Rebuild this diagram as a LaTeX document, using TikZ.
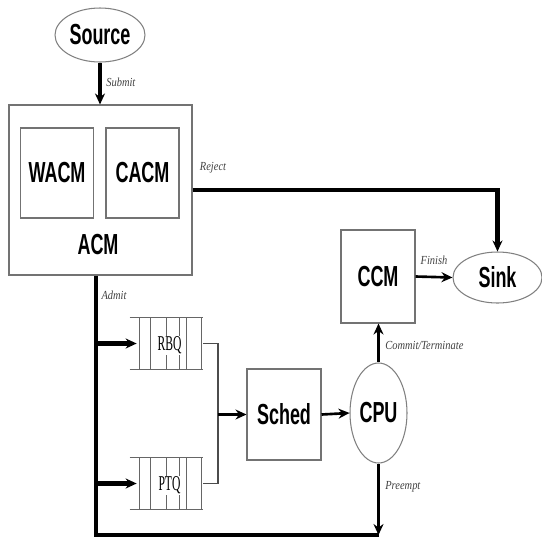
\documentclass[tikz,border=0pt]{standalone}
\usepackage{fontspec}
\setmainfont{Liberation Serif}
\newfontfamily\boxfont[FakeStretch=0.62]{Liberation Sans}
\newfontfamily\tagfont[FakeStretch=0.85]{Liberation Serif}
\newfontfamily\qfont[FakeStretch=0.55]{Liberation Serif}
\usepackage{tikz}
\usetikzlibrary{arrows.meta,shapes.geometric,calc}

\begin{document}
\begin{tikzpicture}[
    x=0.2mm, y=-0.2mm,
    box/.style={draw=black!55, fill=white, line width=0.6pt, inner sep=0pt,
                minimum width=14.6mm, minimum height=18mm,
                font=\boxfont\bfseries\fontsize{16.5}{18}\selectfont},
    boxtext/.style={inner sep=0pt, font=\boxfont\bfseries\fontsize{16.5}{18}\selectfont},
    oval/.style={ellipse, draw=black!50, fill=white, line width=0.6pt, inner sep=0pt,
                 font=\boxfont\bfseries\fontsize{16.5}{18}\selectfont},
    queue/.style={draw=none, inner sep=0pt, minimum width=14.6mm, minimum height=10.2mm},
    qline/.style={draw=black!60, line width=0.6pt},
    qlabel/.style={fill=white, inner sep=0.6pt, font=\qfont\fontsize{12}{13}\selectfont, text=black},
    tag/.style={inner sep=0pt, font=\tagfont\itshape\fontsize{7}{8}\selectfont, text=black!75},
    heavy/.style={draw=black, line width=2.4pt},
    heavyarrow/.style={-{Stealth[length=2.2mm,width=2mm]}, draw=black, line width=2.4pt},
    flowarrow/.style={-{Stealth[length=2.2mm,width=2mm]}, draw=black, line width=1.5pt},
    link/.style={draw=black!70, line width=0.8pt}
]
\useasboundingbox (0,0) rectangle (542,540);

\node[oval, minimum width=18mm, minimum height=10.8mm] (source) at (100,35) {Source};
\node[box, minimum width=36.6mm, minimum height=34mm] (acm) at (100.5,190) {};
\node[box] (wacm) at (57,173) {WACM};
\node[box] (cacm) at (142.5,173) {CACM};
\node[boxtext] (acmname) at (98,245) {ACM};
\node[box, minimum width=14.8mm, minimum height=18.6mm] (ccm) at (378,276.5) {CCM};
\node[oval, minimum width=17.8mm, minimum height=10.2mm] (sink) at (497.5,277.5) {Sink};
\node[box, minimum width=14.8mm, minimum height=18.2mm] (sched) at (284,414.5) {Sched};
\node[oval, minimum width=11.4mm, minimum height=20mm] (cpu) at (378.5,413) {CPU};

\node[queue] (rbq) at (166.5,343.5) {};
\node[queue] (ptq) at (166.5,483.5) {};
\foreach \q in {rbq,ptq} {
    \draw[qline] (\q.north west) -- (\q.north east);
    \draw[qline] (\q.south west) -- (\q.south east);
    \foreach \dx in {10,21,37,50,57,72}
        \draw[qline] ($(\q.north west)+(\dx,0)$) -- ($(\q.south west)+(\dx,0)$);
}
\node[qlabel] (rbqname) at ($(rbq.center)+(3,2)$) {RBQ};
\node[qlabel] (ptqname) at ($(ptq.center)+(3,2)$) {PTQ};

\coordinate (corner) at (96,535);
\coordinate (merge) at (218,414.5);

\draw[heavyarrow] (source.south) -- (source.south |- acm.north);
\draw[heavyarrow] (acm.east) -| (sink.north);
\draw[flowarrow] (ccm.east) -- (sink.west);
\draw[flowarrow] (cpu.north) -- (cpu.north |- ccm.south);
\draw[heavy] (acm.south -| corner) -- (corner) -- (corner -| cpu.south);
\draw[flowarrow] (cpu.south) -- (cpu.south |- corner);
\draw[heavyarrow] (rbq.west -| corner) -- ($(rbq.west)+(7,0)$);
\draw[heavyarrow] (ptq.west -| corner) -- ($(ptq.west)+(7,0)$);
\draw[link] (rbq.east) -| (merge) |- (ptq.east);
\draw[flowarrow] (merge) -- (sched.west);
\draw[flowarrow] (sched.east) -- (cpu.west);

\node[tag, anchor=west] (submittag) at (106,82) {Submit};
\node[tag] (rejecttag) at (213,168) {Reject};
\node[tag] (admittag) at (114,295) {Admit};
\node[tag] (finishtag) at (434,260) {Finish};
\node[tag, anchor=west] (committag) at (385,345) {Commit/Terminate};
\node[tag, anchor=west] (preempttag) at (385,487) {Preempt};

\end{tikzpicture}
\end{document}
